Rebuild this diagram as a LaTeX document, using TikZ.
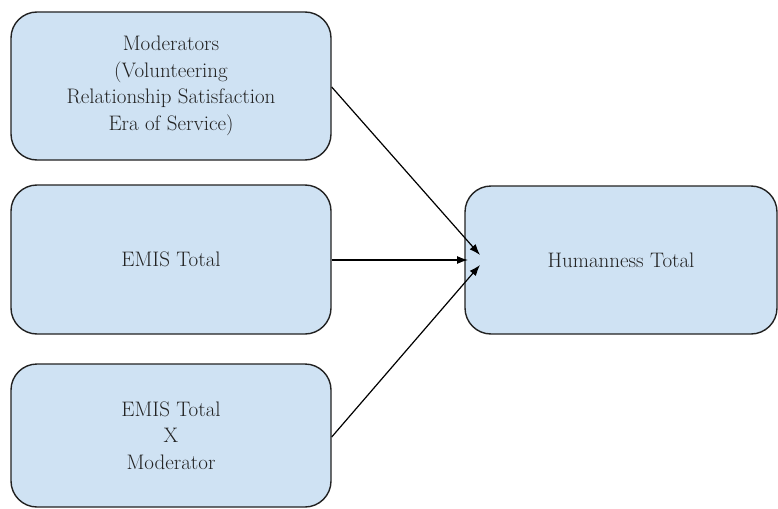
\documentclass[tikz,border=0pt]{standalone}
\usetikzlibrary{arrows.meta}
\definecolor{boxfill}{HTML}{CFE2F3}
\definecolor{boxline}{HTML}{222222}
\definecolor{txt}{HTML}{222222}
\begin{document}
\begin{tikzpicture}[x=1pt,y=-1pt,
  rbox/.style={draw=boxline, line width=1.4pt, fill=boxfill, rounded corners=26pt,
    minimum width=320pt, inner sep=0pt, align=center, text=txt,
    font=\fontsize{21}{26.5}\selectfont},
  conn/.style={draw=black, line width=1.2pt, -{Latex[length=11pt,width=8pt]}}]
\useasboundingbox (0,0) rectangle (778,508);
\node[rbox, minimum height=148pt] (mod) at (171,86) {Moderators\\(Volunteering\\Relationship Satisfaction\\Era of Service)};
\node[rbox, minimum height=149pt] (emis) at (171,259.5) {EMIS Total};
\node[rbox, minimum height=143pt] (inter) at (171,435.5) {EMIS Total\\X\\Moderator};
\node[rbox, minimum width=312pt, minimum height=148pt] (hum) at (621,260) {Humanness Total};
\coordinate (t1) at (480,255);
\coordinate (t2) at (468,260);
\coordinate (t3) at (480,265);
\draw[conn] (mod.east |- 0,87) -- (t1);
\draw[conn] (emis.east |- 0,260) -- (t2);
\draw[conn] (inter.east |- 0,437) -- (t3);
\end{tikzpicture}
\end{document}
